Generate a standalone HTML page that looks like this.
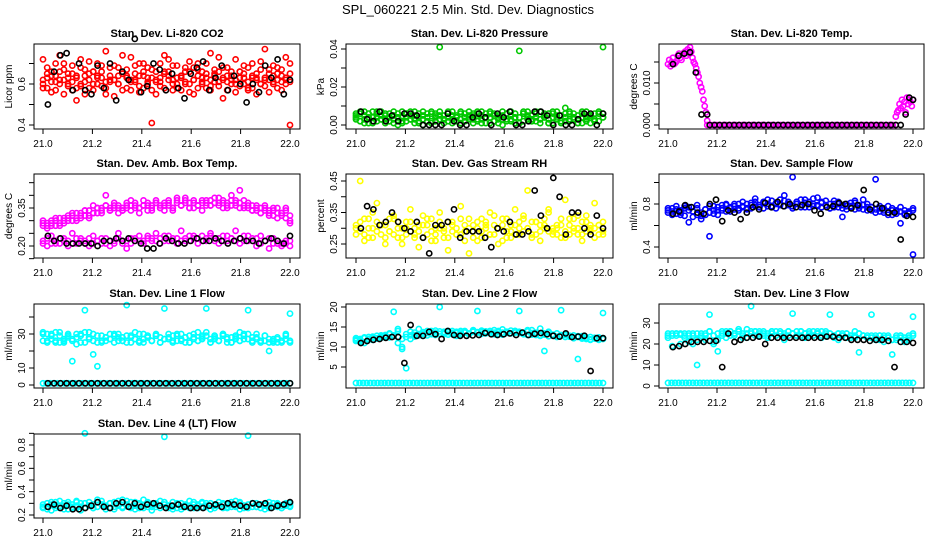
<!DOCTYPE html>
<html><head><meta charset="utf-8"><style>
html,body{margin:0;padding:0;background:#fff;}
svg{display:block;font-family:"Liberation Sans",Arial,sans-serif;}
</style></head><body>
<svg id="chart" width="936" height="540" viewBox="0 0 936 540">
<text x="468" y="14" text-anchor="middle" font-size="13">SPL_060221  2.5 Min. Std. Dev. Diagnostics</text>
</svg>
<script>
// ---- data arrays ----
const xTicks = [21.0, 21.2, 21.4, 21.6, 21.8, 22.0];
const xTickLabels = ["21.0","21.2","21.4","21.6","21.8","22.0"];

const co2RedA = [0.72,0.58,0.66,0.61,0.74,0.55,0.63,0.69,0.52,0.60,0.67,0.71,0.57,0.64,0.59,0.76,0.62,0.54,0.68,0.65,0.58,0.73,0.61,0.56,0.70,0.63,0.41,0.66,0.59,0.74,0.62,0.57,0.69,0.64,0.60,0.71,0.55,0.67,0.63,0.58,0.75,0.61,0.66,0.53,0.68,0.62,0.72,0.59,0.65,0.57,0.70,0.63,0.60,0.77,0.56,0.64,0.68,0.61,0.73,0.40];
const co2RedB = [0.60,0.65,0.56,0.70,0.62,0.67,0.59,0.57,0.64,0.72,0.61,0.58,0.66,0.63,0.69,0.55,0.68,0.62,0.60,0.74,0.64,0.57,0.65,0.70,0.58,0.61,0.67,0.55,0.63,0.66,0.72,0.60,0.58,0.64,0.68,0.56,0.62,0.70,0.61,0.65,0.59,0.67,0.73,0.62,0.57,0.64,0.60,0.66,0.69,0.58,0.63,0.55,0.71,0.62,0.67,0.60,0.65,0.57,0.62,0.70];
const co2RedC = [0.62,0.63,0.61,0.64,0.60,0.62,0.65,0.61,0.63,0.59,0.64,0.62,0.66,0.60,0.63,0.61,0.64,0.62,0.60,0.65,0.63,0.61,0.62,0.64,0.66,0.60,0.63,0.62,0.61,0.65,0.64,0.62,0.60,0.63,0.61,0.66,0.62,0.64,0.60,0.63,0.62,0.65,0.61,0.63,0.64,0.60,0.62,0.66,0.63,0.61,0.64,0.62,0.60,0.63,0.65,0.61,0.62,0.64,0.63,0.61];
const co2RedD = [0.58,0.68,0.64,0.57,0.66,0.70,0.60,0.65,0.58,0.68,0.55,0.65,0.60,0.70,0.66,0.58,0.61,0.69,0.64,0.57,0.67,0.62,0.69,0.59,0.64,0.68,0.57,0.61,0.70,0.58,0.66,0.69,0.63,0.57,0.66,0.60,0.68,0.58,0.66,0.70,0.57,0.64,0.59,0.68,0.61,0.66,0.56,0.63,0.60,0.68,0.58,0.65,0.67,0.59,0.62,0.69,0.58,0.67,0.60,0.65];
const co2Black = [0.50,0.66,0.74,0.75,0.57,0.70,0.57,0.55,0.69,0.58,0.70,0.52,0.66,0.62,0.82,0.56,0.59,0.70,0.67,0.57,0.65,0.58,0.53,0.65,0.68,0.71,0.57,0.63,0.69,0.57,0.64,0.60,0.51,0.60,0.56,0.69,0.63,0.72,0.55,0.62];

const presGreenA = [.006,.002,.005,.001,.004,.007,.003,.006,.002,.005,.000,.004,.006,.003,.007,.001,.005,.002,.006,.004,.041,.003,.007,.001,.005,.006,.002,.004,.003,.007,.005,.001,.006,.002,.004,.007,.003,.005,.001,.039,.006,.004,.002,.007,.003,.005,.006,.001,.004,.002,.009,.006,.003,.005,.001,.007,.004,.002,.006,.041];
const presGreenB = [.003,.006,.001,.004,.007,.002,.005,.003,.006,.001,.004,.007,.002,.005,.003,.006,.000,.004,.007,.002,.005,.001,.006,.003,.004,.007,.002,.005,.001,.006,.003,.004,.007,.002,.005,.000,.006,.003,.004,.001,.007,.005,.002,.006,.003,.004,.001,.007,.005,.002,.006,.003,.004,.001,.007,.002,.005,.003,.006,.004];
const presGreenC = [.005,.002,.007,.004,.001,.006,.003,.005,.002,.007,.004,.001,.006,.003,.005,.002,.007,.004,.001,.006,.003,.005,.002,.007,.004,.001,.006,.003,.005,.002,.007,.004,.001,.006,.003,.005,.002,.007,.004,.001,.006,.003,.005,.002,.007,.004,.001,.006,.003,.005,.002,.007,.004,.001,.006,.003,.005,.002,.007,.004];
const presGreenD = [.004,.007,.003,.006,.002,.004,.007,.001,.004,.003,.006,.002,.004,.007,.001,.004,.003,.006,.002,.005,.007,.003,.004,.005,.002,.003,.004,.007,.006,.003,.001,.006,.004,.005,.001,.003,.006,.002,.006,.004,.002,.007,.003,.004,.001,.006,.003,.004,.007,.001,.004,.002,.006,.003,.004,.004,.001,.006,.002,.006];
const presBlack = [.007,.003,.002,.007,.002,.005,.002,.006,.006,.005,.000,.000,.000,.000,.006,.002,.000,.000,.004,.006,.004,.000,.006,.004,.007,.000,.000,.002,.007,.007,.005,.000,.005,.000,.000,.003,.006,.006,.000,.006];

const tempMagEarly = [.0145,.0155,.0140,.0150,.0160,.0145,.0148,.0152,.0165,.0170,.0160,.0155,.0168,.0172,.0175,.0165,.0180,.0170,.0185,.0175,.0160,.0150,.0145,.0135,.0125,.0115,.0100,.0090,.0080,.0060,.0045,.0030,.0010];
const tempMagZero = [0,0,0,0,0,0,0,0,0,0,0,0,0,0,0,0,0,0,0,0,0,0,0,0,0,0,0,0,0,0,0,0,0,0,0,0,0,0,0,0,0,0,0,0,0,0,0,0,0,0,0,0,0,0,0,0,0,0,0,0];
const tempMagLate = [.0020,.0030,.0035,.0050,.0040,.0060,.0045,.0055,.0030,.0065,.0050,.0060,.0055,.0045,.0060];
const tempBlackEarly = [.0145,.0165,.0170,.0173,.0125,.0025,.0025];
const tempBlackZero = [0,0,0,0,0,0,0,0,0,0,0,0,0,0,0,0,0,0,0,0,0,0,0,0,0,0,0,0,0,0,0,0,0,0,0,0,0,0,0,0];
const tempBlackLate = [.0025,.0065,.0060];

const ambMagA = [.29,.27,.30,.28,.31,.29,.32,.30,.33,.31,.34,.32,.36,.33,.35,.40,.34,.36,.33,.35,.37,.34,.36,.35,.38,.36,.34,.37,.35,.36,.38,.34,.37,.36,.39,.35,.37,.36,.34,.38,.36,.37,.39,.35,.37,.38,.36,.42,.35,.37,.34,.36,.33,.35,.32,.34,.31,.33,.35,.30];
const ambMagB = [.30,.28,.29,.31,.28,.30,.31,.33,.30,.32,.34,.31,.33,.35,.34,.36,.35,.37,.35,.34,.36,.38,.35,.33,.36,.37,.35,.38,.36,.34,.37,.35,.39,.36,.38,.37,.35,.36,.38,.37,.36,.39,.37,.38,.36,.40,.37,.35,.38,.36,.34,.35,.33,.36,.34,.32,.35,.33,.31,.29];
const ambMagC = [.28,.29,.28,.30,.29,.31,.30,.32,.31,.33,.32,.34,.33,.35,.33,.36,.34,.35,.36,.34,.35,.36,.37,.35,.36,.34,.36,.37,.35,.37,.36,.35,.38,.36,.37,.35,.38,.36,.37,.36,.38,.37,.36,.37,.35,.36,.38,.37,.36,.35,.36,.34,.35,.34,.33,.35,.33,.32,.34,.32];
const ambMagLow = [.22,.20,.24,.21,.23,.22,.20,.25,.21,.23,.22,.20,.24,.22,.21,.23,.20,.22,.25,.21,.19,.23,.22,.24,.21,.23,.22,.25,.21,.24,.22,.23,.21,.26,.22,.24,.23,.21,.24,.22,.25,.23,.21,.24,.22,.23,.26,.21,.24,.22,.23,.20,.24,.22,.19,.23,.21,.20,.22,.20];
const ambMagLow2 = [.21,.23,.21,.22,.21,.23,.22,.21,.23,.22,.21,.23,.21,.22,.23,.21,.22,.21,.23,.22,.22,.21,.23,.22,.22,.24,.23,.22,.23,.22,.24,.22,.23,.22,.23,.22,.24,.23,.22,.23,.24,.22,.23,.22,.24,.23,.22,.23,.22,.24,.22,.23,.21,.22,.23,.21,.22,.21,.21,.22];
const ambBlack = [.24,.22,.23,.21,.21,.21,.21,.21,.20,.22,.22,.23,.22,.23,.22,.21,.19,.19,.21,.23,.22,.21,.21,.22,.23,.22,.22,.23,.22,.21,.22,.23,.22,.22,.21,.22,.23,.22,.21,.24];

const rhYelA = [.30,.45,.28,.33,.27,.38,.31,.25,.29,.34,.32,.27,.30,.36,.28,.24,.31,.33,.29,.26,.35,.30,.27,.32,.28,.37,.29,.22,.31,.26,.33,.30,.28,.34,.25,.31,.29,.27,.36,.30,.33,.42,.28,.32,.26,.30,.35,.29,.31,.27,.39,.28,.33,.30,.26,.34,.29,.38,.31,.28];
const rhYelB = [.28,.32,.26,.30,.35,.29,.31,.27,.33,.28,.30,.25,.32,.29,.27,.31,.34,.28,.26,.30,.32,.29,.23,.31,.28,.33,.26,.30,.29,.32,.27,.31,.35,.28,.30,.26,.33,.29,.31,.28,.34,.30,.27,.32,.29,.31,.36,.28,.30,.33,.27,.31,.29,.34,.28,.32,.30,.27,.31,.29];
const rhYelC = [.31,.29,.33,.27,.30,.32,.28,.31,.29,.33,.27,.30,.28,.32,.30,.29,.27,.31,.33,.28,.30,.27,.32,.29,.30,.28,.31,.33,.27,.30,.29,.32,.28,.31,.30,.33,.27,.31,.28,.32,.29,.30,.32,.28,.31,.33,.29,.30,.28,.31,.29,.33,.30,.28,.32,.29,.31,.30,.28,.32];
const rhBlack = [.30,.37,.36,.31,.32,.35,.32,.30,.29,.32,.27,.22,.31,.31,.32,.36,.27,.29,.29,.29,.27,.24,.30,.29,.32,.28,.28,.29,.42,.34,.30,.46,.40,.28,.35,.35,.30,.28,.34,.30];

const flowBlueA = [.74,.70,.78,.72,.76,.63,.73,.79,.69,.75,.50,.71,.77,.74,.80,.73,.78,.76,.82,.75,.79,.85,.77,.81,.78,.83,.76,.80,.88,.79,1.05,.82,.77,.84,.80,.78,.86,.81,.79,.76,.83,.80,.68,.78,.81,.75,.79,.84,.77,.74,1.03,.76,.72,.78,.70,.74,.62,.71,.73,.33];
const flowBlueB = [.72,.76,.71,.74,.69,.77,.73,.70,.66,.75,.72,.78,.74,.76,.79,.77,.75,.80,.78,.76,.81,.79,.77,.82,.80,.78,.81,.79,.83,.80,.78,.82,.79,.81,.77,.80,.78,.82,.79,.76,.80,.77,.79,.75,.78,.81,.76,.79,.74,.77,.75,.73,.76,.72,.74,.71,.73,.70,.72,.74];
const flowBlueC = [.76,.73,.75,.70,.78,.74,.68,.76,.72,.70,.78,.74,.70,.79,.73,.76,.80,.74,.77,.80,.76,.82,.79,.76,.84,.77,.80,.84,.78,.82,.76,.80,.84,.77,.82,.85,.79,.77,.83,.80,.77,.82,.76,.80,.77,.83,.78,.75,.80,.77,.72,.78,.74,.70,.76,.73,.77,.74,.71,.76];
const flowBlack = [.71,.73,.79,.77,.72,.71,.80,.84,.64,.74,.72,.66,.72,.77,.75,.81,.77,.82,.78,.80,.77,.79,.80,.74,.71,.77,.78,.81,.80,.76,.79,.93,.75,.80,.76,.72,.72,.47,.69,.68];

const l1CyanA = [30,26,29,31,25,27,30,14,28,29,44,31,18,11,26,28,27,29,30,26,47,28,31,25,27,29,26,30,28,45,27,29,26,30,28,25,27,31,29,45,27,29,26,30,28,25,27,31,29,44,28,30,26,29,20,25,27,26,30,42];
const l1CyanB = [26,30,27,25,29,26,28,27,30,25,31,27,26,29,25,28,27,30,26,28,25,29,27,26,30,28,26,29,25,27,28,26,30,27,25,29,28,26,27,31,25,28,26,29,27,25,28,26,30,27,25,28,26,29,27,26,28,25,27,26];
const l1CyanC = [31,25,30,26,31,25,29,26,24,30,25,28,30,25,29,26,30,25,28,26,29,25,27,30,25,28,26,29,25,27,30,25,29,26,28,25,30,26,28,29,25,27,26,30,25,28,29,26,27,30,26,27,25,26,25,27,25,26,29,25];
const l1CyanLow = [1,1,1,1,1,1,1,1,1,1,1,1,1,1,1,1,1,1,1,1,1,1,1,1,1,1,1,1,1,1,1,1,1,1,1,1,1,1,1,1,1,1,1,1,1,1,1,1,1,1,1,1,1,1,1,1,1,1,1,1,1,1,1,1,1,1,1,1,1,1];
const l1Black = [1,1,1,1,1,1,1,1,1,1,1,1,1,1,1,1,1,1,1,1,1,1,1,1,1,1,1,1,1,1,1,1,1,1,1,1,1,1,1,1];

const l2CyanA = [11.5,12,11,12.5,11.8,12.2,12.6,13,12.4,18.8,14,9.5,4.7,12,13,14.5,12.8,13.5,14,13,20,13.2,14,13.5,12.8,14,13.6,13.2,14.2,19,13.8,13.4,14,13.6,13.2,14.4,13.8,13.5,14,19,13.6,13,14.2,13.5,12.8,9,13.8,13,12.5,19.2,13,12.6,12.2,7,12.4,12,11.8,12.2,12,18.5];
const l2CyanB = [11.8,11.4,12.2,11.9,12.6,12.1,12.9,12.4,13.2,12.7,11,10,12.5,13.8,12.6,13.1,13.7,12.9,13.4,14.1,13.3,13.8,13.1,14.0,13.5,13.2,13.9,13.4,14.1,13.6,13.3,13.9,13.5,14.2,13.7,13.1,13.8,13.4,14.0,13.5,13.2,13.9,13.1,13.6,12.9,13.4,12.7,13.1,12.6,13.0,12.5,12.8,12.3,12.7,12.1,12.4,11.9,12.3,11.8,12.2];
const l2CyanC = [12.2,11.7,12.4,12.0,12.3,12.8,12.3,12.7,13.4,12.9,14.5,12,13.2,12.9,13.6,12.9,13.3,14.0,13.2,13.6,13.9,13.5,13.7,13.2,13.8,13.6,14.0,13.2,13.8,13.7,14.1,13.5,13.9,13.2,14.0,13.6,13.5,14.1,13.6,13.8,13.4,14.2,13.5,13.0,14.6,13.1,13.6,12.9,13.4,12.8,13.2,12.6,12.9,12.5,12.7,12.2,12.5,12.1,12.4,12.0];
const l2CyanLow = [1,1,1,1,1,1,1,1,1,1,1,1,1,1,1,1,1,1,1,1,1,1,1,1,1,1,1,1,1,1,1,1,1,1,1,1,1,1,1,1,1,1,1,1,1,1,1,1,1,1,1,1,1,1,1,1,1,1,1,1,1,1,1,1,1,1,1,1,1,1];
const l2Black = [11,11.5,11.8,12,12.3,12.5,12.5,6,15.5,12.8,12.8,13.8,13.2,12,14,13,12.8,12.8,12.9,13,13.5,13.2,13,13.2,13.4,13,13.6,13,13.3,13.5,13.2,12.8,12.6,13.4,12.5,12.6,12.8,4,12.2,12.2];

const l3CyanA = [24,19,25,20,24,21,25,10,24,22,34,21,16.5,25,23,26,24,27,25,23,38,26,24,25,23,26,24,25,22,26,34.5,24,26,23,25,24,26,23,25,34,24,22,25,23,24,26,16,24,23,34,22,24,21,23,15,22,24,21,24,33];
const l3CyanB = [25,24,25,24.5,25,24,20,25,23,25,26,24,22,26,25,26,25,26,24,27,25,26,25,26,24,25,26,25,24,26,25,24,26,25,26,24,25,26,24,25,24,25,24,25,23,24,25,24,23,24,23,24,23,24,22,23,24,23,22,25];
const l3CyanC = [23,25,24,25,23,25,24,22,25,24,26,20,25,24,26,24,25,26,23,25,26,24,26,24,25,26,24,26,25,24,25,26,24,25,24,26,25,24,26,25,23,25,24,25,24,23,25,24,24,23,24,22,24,23,22,24,23,22,23,24];
const l3CyanLow = [1.5,1.5,1.5,1.5,1.5,1.5,1.5,1.5,1.5,1.5,1.5,1.5,1.5,1.5,1.5,1.5,1.5,1.5,1.5,1.5,1.5,1.5,1.5,1.5,1.5,1.5,1.5,1.5,1.5,1.5,1.5,1.5,1.5,1.5,1.5,1.5,1.5,1.5,1.5,1.5,1.5,1.5,1.5,1.5,1.5,1.5,1.5,1.5,1.5,1.5,1.5,1.5,1.5,1.5,1.5,1.5,1.5,1.5,1.5,1.5,1.5,1.5,1.5,1.5,1.5,1.5,1.5,1.5,1.5,1.5];
const l3Black = [18.5,19,20,21,21,21,21.5,21.5,9,25,21,22,23,23,23.5,20,23,23,23,23,23,23,23,23,23,23.5,23.5,23,23,22,22,22,21.5,22,22,21.5,9,21,21,20.5];

const l4CyanA = [.26,.30,.24,.28,.32,.25,.29,.27,.31,.24,.90,.28,.26,.33,.29,.25,.30,.27,.32,.26,.28,.31,.25,.29,.33,.27,.24,.30,.28,.87,.26,.31,.29,.25,.28,.32,.26,.29,.27,.30,.25,.28,.31,.26,.29,.27,.32,.25,.28,.88,.30,.27,.29,.25,.31,.27,.29,.26,.30,.28];
const l4CyanB = [.29,.27,.31,.26,.28,.30,.25,.29,.32,.27,.30,.28,.26,.31,.29,.27,.30,.25,.28,.33,.29,.27,.31,.26,.28,.30,.27,.29,.26,.31,.28,.25,.30,.27,.29,.26,.31,.28,.30,.27,.25,.29,.28,.30,.26,.29,.27,.31,.28,.26,.30,.27,.29,.28,.26,.30,.27,.28,.29,.27];
const l4CyanC = [.27,.25,.29,.31,.26,.28,.31,.26,.28,.30,.26,.31,.29,.27,.32,.28,.26,.31,.29,.27,.32,.26,.28,.30,.26,.31,.29,.27,.32,.29,.28,.27,.26,.30,.27,.28,.29,.26,.31,.28,.30,.26,.28,.29,.27,.31,.28,.30,.26,.29,.27,.30,.26,.29,.28,.27,.30,.26,.28,.30];
const l4Black = [.27,.29,.26,.28,.25,.25,.26,.28,.31,.27,.26,.30,.31,.27,.30,.27,.29,.30,.28,.26,.28,.29,.27,.26,.26,.26,.28,.29,.27,.30,.29,.28,.27,.30,.29,.30,.26,.28,.29,.31];

// ---- layout ----
const cols = [{l:34,r:300,x21:43,x22:290},{l:346,r:613,x21:356,x22:603},{l:659,r:924,x21:668,x22:913}];
const rows = [{t:44,b:129},{t:174,b:258},{t:304,b:388},{t:434,b:518}];
const svg = document.getElementById('chart');
const NS = 'http://www.w3.org/2000/svg';
function mk(tag, attrs, parent){const e=document.createElementNS(NS,tag);for(const k in attrs)e.setAttribute(k,attrs[k]);(parent||svg).appendChild(e);return e;}

const panels = [
 {c:0,r:0,title:"Stan. Dev. Li-820 CO2",ylab:"Licor ppm",v0:0.4,p0:125,v1:0.6,p1:84,ticks:[0.4,0.5,0.6,0.7],labels:{"0.4":"0.4","0.6":"0.6"},
  series:[{v:co2RedA,c:"#ff0000"},{v:co2RedB,c:"#ff0000"},{v:co2RedC,c:"#ff0000"},{v:co2RedD,c:"#ff0000"},{v:co2Black,c:"#000",x0:21.02}]},
 {c:1,r:0,title:"Stan. Dev. Li-820 Pressure",ylab:"kPa",v0:0,p0:125,v1:0.04,p1:49,ticks:[0,0.01,0.02,0.03,0.04],labels:{"0":"0.00","0.02":"0.02","0.04":"0.04"},
  series:[{v:presGreenA,c:"#00c800"},{v:presGreenB,c:"#00c800"},{v:presGreenC,c:"#00c800"},{v:presGreenD,c:"#00c800"},{v:presBlack,c:"#000",x0:21.02}]},
 {c:2,r:0,title:"Stan. Dev. Li-820 Temp.",ylab:"degrees C",v0:0,p0:125,v1:0.01,p1:83,ticks:[0,0.005,0.01,0.015],labels:{"0":"0.000","0.01":"0.010"},
  series:[{v:tempMagEarly,c:"#ff00ff",x0:21.0,x1:21.16},{v:tempMagZero,c:"#ff00ff",x0:21.16,x1:21.93},{v:tempMagLate,c:"#ff00ff",x0:21.93,x1:22.0},
   {v:tempBlackEarly,c:"#000",x0:21.02,x1:21.16},{v:tempBlackZero,c:"#000",x0:21.17,x1:21.95},{v:tempBlackLate,c:"#000",x0:21.97,x1:22.0}]},
 {c:0,r:1,title:"Stan. Dev. Amb. Box Temp.",ylab:"degrees C",v0:0.2,p0:246,v1:0.35,p1:208,ticks:[0.15,0.2,0.25,0.3,0.35,0.4,0.45],labels:{"0.2":"0.20","0.35":"0.35"},
  series:[{v:ambMagA,c:"#ff00ff"},{v:ambMagB,c:"#ff00ff"},{v:ambMagC,c:"#ff00ff"},{v:ambMagLow,c:"#ff00ff"},{v:ambMagLow2,c:"#ff00ff"},{v:ambBlack,c:"#000",x0:21.02}]},
 {c:1,r:1,title:"Stan. Dev. Gas Stream RH",ylab:"percent",v0:0.25,p0:244,v1:0.45,p1:181,ticks:[0.2,0.25,0.3,0.35,0.4,0.45],labels:{"0.25":"0.25","0.35":"0.35","0.45":"0.45"},
  series:[{v:rhYelA,c:"#ffff00"},{v:rhYelB,c:"#ffff00"},{v:rhYelC,c:"#ffff00"},{v:rhBlack,c:"#000",x0:21.02}]},
 {c:2,r:1,title:"Stan. Dev. Sample Flow",ylab:"ml/min",v0:0.4,p0:247,v1:0.8,p1:204,ticks:[0.4,0.6,0.8,1.0],labels:{"0.4":"0.4","0.8":"0.8"},
  series:[{v:flowBlueA,c:"#0000ff"},{v:flowBlueB,c:"#0000ff"},{v:flowBlueC,c:"#0000ff"},{v:flowBlack,c:"#000",x0:21.02}]},
 {c:0,r:2,title:"Stan. Dev. Line 1 Flow",ylab:"ml/min",v0:0,p0:385,v1:30,p1:334,ticks:[0,10,20,30,40],labels:{"0":"0","10":"10","30":"30"},
  series:[{v:l1CyanA,c:"#00ffff"},{v:l1CyanB,c:"#00ffff"},{v:l1CyanC,c:"#00ffff"},{v:l1CyanLow,c:"#00ffff"},{v:l1Black,c:"#000",x0:21.02}]},
 {c:1,r:2,title:"Stan. Dev. Line 2 Flow",ylab:"ml/min",v0:5,p0:367,v1:20,p1:307,ticks:[5,10,15,20],labels:{"5":"5","10":"10","15":"15","20":"20"},
  series:[{v:l2CyanA,c:"#00ffff"},{v:l2CyanB,c:"#00ffff"},{v:l2CyanC,c:"#00ffff"},{v:l2CyanLow,c:"#00ffff"},{v:l2Black,c:"#000",x0:21.02}]},
 {c:2,r:2,title:"Stan. Dev. Line 3 Flow",ylab:"ml/min",v0:0,p0:386,v1:30,p1:323,ticks:[0,10,20,30],labels:{"0":"0","10":"10","20":"20","30":"30"},
  series:[{v:l3CyanA,c:"#00ffff"},{v:l3CyanB,c:"#00ffff"},{v:l3CyanC,c:"#00ffff"},{v:l3CyanLow,c:"#00ffff"},{v:l3Black,c:"#000",x0:21.02}]},
 {c:0,r:3,title:"Stan. Dev. Line 4 (LT) Flow",ylab:"ml/min",v0:0.2,p0:515,v1:0.8,p1:445,ticks:[0.2,0.3,0.4,0.5,0.6,0.7,0.8,0.9],labels:{"0.2":"0.2","0.4":"0.4","0.6":"0.6","0.8":"0.8"},
  series:[{v:l4CyanA,c:"#00ffff"},{v:l4CyanB,c:"#00ffff"},{v:l4CyanC,c:"#00ffff"},{v:l4Black,c:"#000",x0:21.02}]}
];

panels.forEach((p,pi)=>{
  const C=cols[p.c], R=rows[p.r];
  const g=mk('g',{});
  
  
  const xs=v=>C.x21+(v-21)*(C.x22-C.x21);
  const ys=v=>p.p0+(v-p.v0)*(p.p1-p.p0)/(p.v1-p.v0);
  const t=mk('text',{x:(C.l+C.r)/2,y:R.t-7,'text-anchor':'middle','font-size':'11','font-weight':'bold'},g);
  t.textContent=p.title;
  
  
  const pts=mk('g',{fill:'none','stroke-width':'1.6'},g);
  
  
  p.series.forEach(s=>{
    const x0=s.x0!==undefined?s.x0:21.0, x1=s.x1!==undefined?s.x1:22.0, n=s.v.length;
    s.v.forEach((v,i)=>{
      const xv=n>1?x0+i*(x1-x0)/(n-1):x0;
      const c=mk('circle',{cx:xs(xv).toFixed(1),cy:ys(v).toFixed(1),r:'2.6',stroke:s.c},pts);
      
      
    });
  });
  const b=mk('rect',{x:C.l,y:R.t,width:C.r-C.l,height:R.b-R.t,fill:'none',stroke:'#000','stroke-width':'1'},g);
  
  
  const xa=mk('g',{stroke:'#000','stroke-width':'1'},g);
  
  
  mk('line',{x1:xs(21),x2:xs(22),y1:R.b,y2:R.b},xa);
  xTicks.forEach((v,i)=>{
    mk('line',{x1:xs(v),x2:xs(v),y1:R.b,y2:R.b+5},xa);
    const tl=mk('text',{x:xs(v),y:R.b+18,'text-anchor':'middle','font-size':'10',stroke:'none'},xa);
    tl.textContent=xTickLabels[i];
    
    
  });
  const ya=mk('g',{stroke:'#000','stroke-width':'1'},g);
  
  
  const tv=p.ticks.filter(v=>ys(v)>=R.t-1&&ys(v)<=R.b+1);
  mk('line',{x1:C.l,x2:C.l,y1:ys(tv[0]),y2:ys(tv[tv.length-1])},ya);
  tv.forEach(v=>{
    const y=ys(v);
    mk('line',{x1:C.l-5,x2:C.l,y1:y,y2:y},ya);
    const key=String(v);
    if(p.labels[key]!==undefined){
      const yl=mk('text',{x:0,y:0,transform:`translate(${C.l-9},${y}) rotate(-90)`,'text-anchor':'middle','font-size':'10',stroke:'none'},ya);
      yl.textContent=p.labels[key];
      
      
    }
  });
  const lab=mk('text',{x:0,y:0,transform:`translate(${C.l-22},${(R.t+R.b)/2}) rotate(-90)`,'text-anchor':'middle','font-size':'10'},g);
  lab.textContent=p.ylab;
  
  
});
</script>
</body></html>
